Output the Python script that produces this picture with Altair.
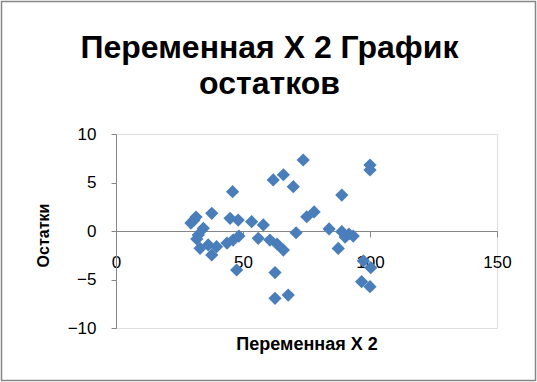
import altair as alt
import pandas as pd

# Values
x_vals = [29.5, 31.5, 30.7, 37.7, 34.4, 32.4, 31.8, 33.1, 36.3, 39.6, 37.7,
          45.9, 44.9, 48.1, 53.4, 58.0, 43.7, 46.1, 48.4, 56.0, 60.6, 63.4,
          65.9, 47.5, 62.6, 62.6, 67.8, 61.9, 65.9, 69.8, 73.7, 75.1, 78.0,
          70.9, 83.9, 88.9, 88.9, 90.2, 91.7, 93.4, 87.5, 100.0, 100.0,
          97.4, 100.3, 96.7, 100.0]
resid = [0.82, 1.44, 1.13, 1.82, 0.28, -0.41, -0.82, -1.78, -1.44, -1.62, -2.47,
         4.05, 1.31, 1.13, 0.96, 0.62, -1.24, -0.93, -0.52, -0.75, -0.93, -1.34,
         -1.96, -4.02, -4.28, -6.94, -6.60, 5.26, 5.80, 4.57, 7.32, 1.47, 1.96,
         -0.18, 0.21, 3.71, -0.07, -0.62, -0.31, -0.52, -1.80, 6.80, 6.29,
         -3.09, -3.78, -5.22, -5.74]

x_ticks = [0, 50, 100, 150]
y_ticks = [-10, -5, 0, 5, 10]

title_lines = ["Переменная X 2 График", "остатков"]
x_title = "Переменная X 2"
y_title = "Остатки"

df = pd.DataFrame({"x": x_vals, "r": resid})

AX = "#868686"
FONT = "Liberation Sans"

points = alt.Chart(df).mark_point(
    shape="diamond", filled=True, size=175, color="#4A7EBB", opacity=1
).encode(
    x=alt.X("x:Q", scale=alt.Scale(domain=[0, 150], nice=False),
            axis=alt.Axis(values=x_ticks, offset=-97, grid=False,
                          domainColor=AX, tickColor=AX, tickSize=6,
                          labelPadding=17, labelFontSize=17, labelFont=FONT,
                          labelColor="black", title=x_title,
                          titleFont=FONT, titleFontSize=18, titleFontWeight="bold",
                          titleColor="black", titleY=118, titleBaseline="alphabetic",
                          labelFlush=False)),
    y=alt.Y("r:Q", scale=alt.Scale(domain=[-10, 10], nice=False),
            axis=alt.Axis(values=y_ticks, grid=False,
                          domainColor=AX, tickColor=AX, tickSize=5,
                          labelPadding=15, labelFontSize=17, labelFont=FONT,
                          labelColor="black", title=y_title,
                          titleFont=FONT, titleFontSize=16, titleFontWeight="bold",
                          titleColor="black", titleX=-73, titleY=101,
                          titleAngle=270, titleBaseline="middle", titleAlign="center",
                          labelFlush=False)),
)

frame = alt.Chart(alt.Data(values=[{}])).mark_rect(
    fill=None, stroke=AX, strokeWidth=1.5, clip=False
).encode(
    x=alt.value(-114.5), x2=alt.value(419.5),
    y=alt.value(-132.5), y2=alt.value(246.5),
)

chart = alt.layer(frame, points).properties(
    width=381, height=194,
    autosize=alt.AutoSizeParams(type="none"),
    padding={"left": 116, "top": 134, "right": 40, "bottom": 54},
    title=alt.TitleParams(title_lines, font=FONT, fontSize=32, fontWeight="bold",
                          color="black", anchor="middle", lineHeight=36,
                          frame="group", baseline="alphabetic", offset=-125,
                          dx=-37),
).configure_view(stroke=None).configure(background="white")

chart.save("out.html", embed_options={"renderer": "svg", "actions": False})
